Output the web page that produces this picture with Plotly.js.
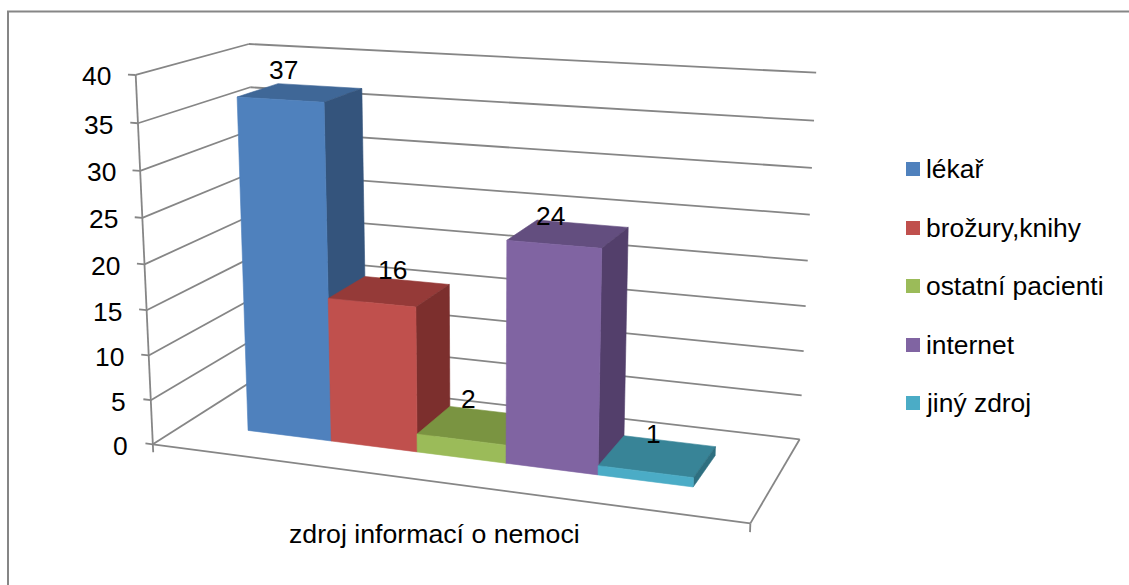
<!DOCTYPE html>
<html><head><meta charset="utf-8"><script src="https://cdn.plot.ly/plotly-3.0.0.min.js"></script>
<style>html,body{margin:0;padding:0;background:#fff}#p{width:1129px;height:585px}</style></head>
<body><div id="p"></div>
<script>
const seriesNames=['lékař','brožury,knihy','ostatní pacienti','internet','jiný zdroj'];
const seriesValues=[37,16,2,24,1];
const tickValues=[0,5,10,15,20,25,30,35,40];
const frontColors=['#4F81BD','#C0504D','#9BBB59','#8064A2','#4BACC6'];
const topColors=['#3F6797','#953A38','#7A9441','#634E7F','#388497'];
const sideColors=['#34547C','#7C2F2D','#657A35','#533F6B','#2E6F80'];
// camera matrix of the 3-D view: (bar index, depth, value) -> picture position
const M=[77.8000212,51.1441611,-0.584001974,248.068290,3.43061931,-9.14664552,-9.12823291,430.399846,-0.0161940729,0.0432888660,-0.00121358309];
const xF0=-0.7572,xF1=5.7445,yF0=-0.7735,yF1=1.8340;
function project(x,y,z){const w=M[8]*x+M[9]*y+M[10]*z+1;return [(M[0]*x+M[1]*y+M[2]*z+M[3])/w,(M[4]*x+M[5]*y+M[6]*z+M[7])/w];}
const traces=[];
const lx=[],ly=[];
function seg(a,b){const p=project(...a),q=project(...b);lx.push(p[0],q[0],null);ly.push(p[1],q[1],null);}
const tickX=.09;
tickValues.forEach(tv=>{seg([xF0-tickX,yF0,tv],[xF0,yF0,tv]);seg([xF0,yF0,tv],[xF0,yF1,tv]);seg([xF0,yF1,tv],[xF1,yF1,tv]);});
seg([xF0,yF0,-.9],[xF0,yF0,40]);seg([xF1,yF0,-.9],[xF1,yF0,0]);seg([xF0,yF0,0],[xF1,yF0,0]);seg([xF1,yF0,0],[xF1,yF1,0]);
traces.push({type:'scatter',mode:'lines',x:lx,y:ly,line:{color:'#868686',width:1.8},hoverinfo:'skip',showlegend:false});
function face(pts,col,name){const c=pts.map(p=>project(...p));c.push(c[0]);traces.push({type:'scatter',mode:'lines',name,x:c.map(p=>p[0]),y:c.map(p=>p[1]),fill:'toself',fillcolor:col,line:{color:col,width:.6},hoverinfo:'name',showlegend:false});}
seriesValues.forEach((v,n)=>{const a=n,b=n+1;
 face([[a,1,v],[b,1,v],[b,0,v],[a,0,v]],topColors[n],seriesNames[n]);
 face([[b,0,0],[b,1,0],[b,1,v],[b,0,v]],sideColors[n],seriesNames[n]);
 face([[a,0,0],[b,0,0],[b,0,v],[a,0,v]],frontColors[n],seriesNames[n]);});
const font={family:'Liberation Sans, Arial, sans-serif',size:26.4,color:'#000'};
const ann=[];
tickValues.forEach(tv=>{const p=project(xF0,yF0,tv);ann.push({xref:'x',yref:'y',x:p[0],y:p[1]+1.5,text:String(tv),showarrow:false,xanchor:'right',yanchor:'middle',xshift:-22.5,font});});
const labelDx=[-36,-14,-24,-32,-16],labelDy=[-16,-10,-12,-8,-7];
seriesValues.forEach((v,n)=>{const p=project(n+.5,1,v);ann.push({xref:'x',yref:'y',x:p[0]+labelDx[n],y:p[1]+labelDy[n],text:String(v),showarrow:false,xanchor:'center',yanchor:'middle',font});});
ann.push({xref:'x',yref:'y',x:434.5,y:534,text:'zdroj informací o nemoci',showarrow:false,xanchor:'center',yanchor:'middle',font:{...font,size:26.7}});
const legY=[169,228,286,345,403];
const shapes=[{type:'line',xref:'x',yref:'y',x0:8,x1:8,y0:11,y1:585,line:{color:'#868686',width:2}},{type:'line',xref:'x',yref:'y',x0:7,x1:1129,y0:11.5,y1:11.5,line:{color:'#868686',width:2}}];
seriesNames.forEach((nm,i)=>{shapes.push({type:'rect',xref:'x',yref:'y',x0:906,x1:920,y0:legY[i]-7,y1:legY[i]+7,fillcolor:frontColors[i],line:{width:0}});
 ann.push({xref:'x',yref:'y',x:924,y:legY[i],xanchor:'left',yanchor:'middle',text:nm,showarrow:false,font});});
const axis=r=>({visible:false,range:r,autorange:false,fixedrange:true,showgrid:false,zeroline:false});
Plotly.newPlot('p',traces,{width:1129,height:585,margin:{l:0,r:0,t:0,b:0,pad:0},paper_bgcolor:'#fff',plot_bgcolor:'#fff',showlegend:false,shapes,annotations:ann,xaxis:axis([0,1129]),yaxis:axis([585,0])},{displayModeBar:false});
</script></body></html>
